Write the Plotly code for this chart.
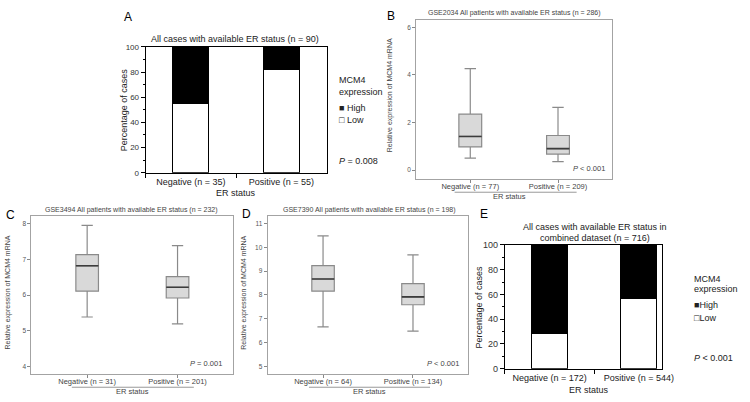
import plotly.graph_objects as go

W, H = 750, 402
FONT = "Liberation Sans, Arial, sans-serif"

# ---------------- data ----------------
# Panel A: all cases with ER status (n = 90)
a_categories = ["Negative (n = 35)", "Positive (n = 55)"]
a_low = [54.3, 81.8]
a_high = [45.7, 18.2]

# Panel E: combined dataset (n = 716)
e_categories = ["Negative (n = 172)", "Positive (n = 544)"]
e_low = [28.5, 56.6]
e_high = [71.5, 43.4]

# Panel B: GSE2034
b_categories = ["Negative (n = 77)", "Positive (n = 209)"]
b_lower = [0.50, 0.35]
b_q1 = [0.97, 0.67]
b_median = [1.41, 0.90]
b_q3 = [2.35, 1.45]
b_upper = [4.26, 2.63]

# Panel C: GSE3494
c_categories = ["Negative (n = 31)", "Positive (n = 201)"]
c_lower = [5.39, 5.20]
c_q1 = [6.11, 5.92]
c_median = [6.82, 6.22]
c_q3 = [7.13, 6.52]
c_upper = [7.95, 7.38]

# Panel D: GSE7390
d_categories = ["Negative (n = 64)", "Positive (n = 134)"]
d_lower = [6.66, 6.48]
d_q1 = [8.16, 7.59]
d_median = [8.67, 7.92]
d_q3 = [9.23, 8.48]
d_upper = [10.48, 9.68]


def px(x):
    return x / W


def py(y):
    return 1 - y / H


fig = go.Figure()

# ---------------- stacked bars (A, E) ----------------
for cats, low, high, xa, ya in [(a_categories, a_low, a_high, "x", "y"),
                                (e_categories, e_low, e_high, "x5", "y5")]:
    fig.add_trace(go.Bar(x=cats, y=low, name="Low", width=0.4,
                         marker=dict(color="white", line=dict(color="black", width=1)),
                         xaxis=xa, yaxis=ya, showlegend=False))
    fig.add_trace(go.Bar(x=cats, y=high, name="High", width=0.4,
                         marker=dict(color="black", line=dict(color="black", width=1)),
                         xaxis=xa, yaxis=ya, showlegend=False))

# ---------------- box plots (B, C, D) ----------------
box_sets = [
    (b_categories, b_lower, b_q1, b_median, b_q3, b_upper, "x2", "y2", 0.26),
    (c_categories, c_lower, c_q1, c_median, c_q3, c_upper, "x3", "y3", 0.25),
    (d_categories, d_lower, d_q1, d_median, d_q3, d_upper, "x4", "y4", 0.25),
]
for cats, lo, q1, med, q3, up, xa, ya, bw in box_sets:
    fig.add_trace(go.Box(x=cats, lowerfence=lo, q1=q1, median=med, q3=q3, upperfence=up,
                         width=bw, whiskerwidth=0.5, boxpoints=False,
                         fillcolor="#d9d9d9", line=dict(color="#8a8a8a", width=1.2),
                         xaxis=xa, yaxis=ya, showlegend=False))
    # darker median line drawn on top
    fig.add_trace(go.Box(x=cats, lowerfence=med, q1=med, median=med, q3=med, upperfence=med,
                         width=bw, whiskerwidth=0, boxpoints=False,
                         fillcolor="rgba(0,0,0,0)", line=dict(color="#3c3c3c", width=1.6),
                         xaxis=xa, yaxis=ya, showlegend=False))

# ---------------- axes ----------------
def bar_x(domain, rng):
    return dict(domain=domain, type="category", range=rng, tickson="boundaries",
                ticks="outside", ticklen=4, tickcolor="black", showline=True,
                linecolor="black", linewidth=1, mirror=True, showgrid=False,
                tickfont=dict(family=FONT, size=9, color="#222"), fixedrange=True)


def bar_y(domain, anchor, tsize):
    return dict(domain=domain, anchor=anchor, range=[0, 100], tickvals=[0, 20, 40, 60, 80, 100],
                ticks="outside", ticklen=4, tickcolor="black", showline=True,
                linecolor="black", linewidth=1, mirror=True, showgrid=False, zeroline=False,
                minor=dict(dtick=10, ticks="outside", ticklen=2, tickcolor="black", showgrid=False),
                tickfont=dict(family=FONT, size=tsize, color="#333"))


def box_x(domain, anchor):
    return dict(domain=domain, anchor=anchor, type="category", range=[-0.616, 1.616],
                ticks="outside", ticklen=3, tickcolor="#888", showline=True,
                linecolor="#a3a3a3", linewidth=1, mirror=True, showgrid=False,
                ticklabelstandoff=-3,
                tickfont=dict(family=FONT, size=7.5, color="#444"))


def box_y(domain, anchor, rng, dtick):
    return dict(domain=domain, anchor=anchor, range=rng, dtick=dtick,
                ticks="outside", ticklen=3, tickcolor="#888", showline=True,
                linecolor="#a3a3a3", linewidth=1, mirror=True, showgrid=False, zeroline=False,
                tickfont=dict(family=FONT, size=6.5, color="#555"))


fig.update_layout(
    width=W, height=H, autosize=False,
    margin=dict(l=0, r=0, t=0, b=0),
    paper_bgcolor="white", plot_bgcolor="white",
    barmode="stack", boxmode="overlay", bargap=0,
    font=dict(family=FONT, size=9, color="#222"),
    xaxis=dict(**bar_x([px(148), px(332)], [-0.5, 1.5]), anchor="y"),
    yaxis=bar_y([py(172), py(43)], "x", 8),
    xaxis5=dict(**bar_x([px(513), px(673)], [-0.5, 1.26]), anchor="y5"),
    yaxis5=bar_y([py(373), py(246)], "x5", 9),
    xaxis2=box_x([px(423), px(622)], "y2"),
    yaxis2=box_y([py(178), py(15)], "x2", [-0.36, 6.32], 2),
    xaxis3=box_x([px(32), px(237)], "y3"),
    yaxis3=box_y([py(378), py(216)], "x3", [3.81, 8.22], 1),
    xaxis4=box_x([px(272), px(476)], "y4"),
    yaxis4=box_y([py(378), py(216)], "x4", [4.70, 11.33], 1),
)

ann = []


def text(x, y, s, size=9, color="#222", xanchor="center", angle=0):
    ann.append(dict(x=px(x), y=py(y), xref="paper", yref="paper", text=s, showarrow=False,
                    xanchor=xanchor, yanchor="middle", textangle=angle,
                    font=dict(family=FONT, size=size, color=color)))


# panel letters
text(130, 12, "A", 12, "black")
text(397, 11, "B", 12, "black")
text(11, 215, "C", 12, "black")
text(251, 214, "D", 12, "black")
text(492, 214, "E", 12, "black")

# panel A
text(239, 35, "All cases with available ER status (n = 90)", 9)
text(126, 107, "Percentage of cases", 9, angle=-90)
text(240, 193, "ER status", 9)
text(342, 77, "MCM4", 9, xanchor="left")
text(342, 89, "expression", 9, xanchor="left")
text(342, 106, "■ High", 9, xanchor="left")
text(342, 118, "□ Low", 9, xanchor="left")
text(342, 160, "<i>P</i> = 0.008", 9, xanchor="left")

# panel E
text(605, 228, "All cases with available ER status in", 9)
text(605, 239, "combined dataset (n = 716)", 9)
text(487, 310, "Percentage of cases", 9, angle=-90)
text(599, 395, "ER status", 9)
text(703, 281, "MCM4", 9, xanchor="left")
text(703, 291, "expression", 9, xanchor="left")
text(703, 308, "■High", 9, xanchor="left")
text(703, 321, "□Low", 9, xanchor="left")
text(703, 362, "<i>P</i> &lt; 0.001", 9, xanchor="left")

# panel B
text(523, 8, "GSE2034 All patients with available ER status (n = 286)", 7, "#444")
text(396, 93, "Relative expression of MCM4 mRNA", 7, "#444", angle=-90)
text(518, 196, "ER status", 7.5, "#444")
text(617, 168, "<i>P</i> &lt; 0.001", 7.5, "#444", xanchor="right")

# panel C
text(134, 210, "GSE3494 All patients with available ER status (n = 232)", 7, "#444")
text(8, 295, "Relative expression of MCM4 mRNA", 7, "#444", angle=-90)
text(135, 396, "ER status", 7.5, "#444")
text(228, 368, "<i>P</i> = 0.001", 7.5, "#444", xanchor="right")

# panel D
text(376, 210, "GSE7390 All patients with available ER status (n = 198)", 7, "#444")
text(248, 295, "Relative expression of MCM4 mRNA", 7, "#444", angle=-90)
text(376, 396, "ER status", 7.5, "#444")
text(469, 368, "<i>P</i> &lt; 0.001", 7.5, "#444", xanchor="right")

fig.update_layout(annotations=ann)

# underline brackets beneath the category labels of B, C, D
shapes = []
for x0, x1, y in [(462, 586, 192), (73, 197, 392), (314, 437, 392)]:
    shapes.append(dict(type="line", xref="paper", yref="paper", x0=px(x0), x1=px(x1),
                       y0=py(y), y1=py(y), line=dict(color="#999", width=1)))
fig.update_layout(shapes=shapes)

fig.write_html("out.html", config={"displayModeBar": False},
               post_script="document.body.style.margin='0';document.body.style.overflow='hidden';")
